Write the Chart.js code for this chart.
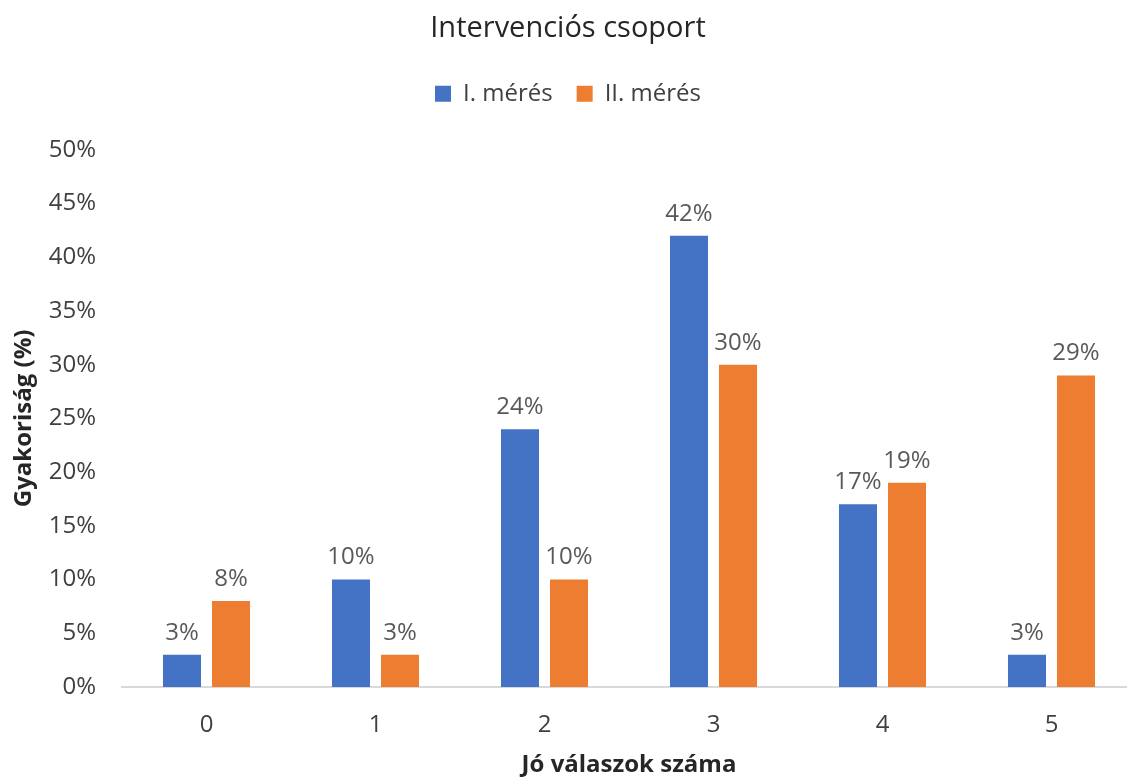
<!DOCTYPE html>
<html>
<head>
<meta charset="utf-8">
<script src="https://cdn.jsdelivr.net/npm/chart.js@4/dist/chart.umd.min.js"></script>
<style>
  html, body { margin: 0; padding: 0; background: #fff; overflow: hidden; }
  #wrap { width: 1140px; height: 778px; }
</style>
</head>
<body>
<div id="wrap"><canvas id="freqChart" width="1140" height="778"></canvas></div>
<script>
const categories = ["0", "1", "2", "3", "4", "5"];
const seriesNames = ["I. mérés", "II. mérés"];
const firstRound = [3, 10, 24, 42, 17, 3];
const secondRound = [8, 3, 10, 30, 19, 29];

const FONT = "'Open Sans', 'Noto Sans', sans-serif";

// small inline plugin: percent labels above each bar
const barValueLabels = {
  id: "barValueLabels",
  afterDatasetsDraw(chart) {
    const ctx = chart.ctx;
    ctx.save();
    ctx.font = "24px " + FONT;
    ctx.fillStyle = "#595959";
    ctx.textAlign = "center";
    ctx.textBaseline = "bottom";
    chart.data.datasets.forEach((ds, i) => {
      chart.getDatasetMeta(i).data.forEach((bar, j) => {
        ctx.fillText(ds.data[j] + "%", bar.x, bar.y - 10);
      });
    });
    ctx.restore();
  }
};

// leave some extra room between the legend and the plot
const legendGap = {
  id: "legendGap",
  afterInit(chart) {
    const legend = chart.legend;
    if (!legend) return;
    const fit = legend.fit;
    legend.fit = function () {
      fit.call(this);
      this.height += 34;
    };
  }
};

const ctx = document.getElementById("freqChart").getContext("2d");
new Chart(ctx, {
  type: "bar",
  data: {
    labels: categories,
    datasets: [
      { label: seriesNames[0], data: firstRound, backgroundColor: "#4472C4" },
      { label: seriesNames[1], data: secondRound, backgroundColor: "#ED7D31" }
    ]
  },
  options: {
    responsive: false,
    animation: false,
    categoryPercentage: 0.58,
    barPercentage: 0.776,
    layout: { padding: { left: 0, right: 4, top: 0, bottom: 0 } },
    plugins: {
      title: {
        display: true,
        text: "Intervenciós csoport",
        color: "#262626",
        font: { family: FONT, size: 29, weight: "normal" },
        padding: { top: 11, bottom: 12 }
      },
      legend: {
        display: true,
        labels: {
          color: "#404040",
          font: { family: FONT, size: 24 },
          boxWidth: 16,
          boxHeight: 16,
          padding: 24
        }
      },
      tooltip: { enabled: false }
    },
    scales: {
      x: {
        grid: { display: false, drawTicks: false },
        border: { display: true, color: "#d9d9d9", width: 2 },
        ticks: { color: "#404040", font: { family: FONT, size: 24 }, padding: 24 },
        title: {
          display: true,
          text: "Jó válaszok száma",
          color: "#262626",
          font: { family: FONT, size: 24, weight: "bold" },
          padding: { top: 0, bottom: -2 }
        },
        afterFit: (scale) => { scale.height = 91; }
      },
      y: {
        min: 0,
        max: 50,
        grid: { display: false, drawTicks: false },
        border: { display: false },
        ticks: {
          stepSize: 5,
          color: "#404040",
          font: { family: FONT, size: 24 },
          padding: 26,
          callback: (v) => v + "%"
        },
        title: {
          display: true,
          text: "Gyakoriság (%)",
          color: "#262626",
          font: { family: FONT, size: 24, weight: "bold" },
          padding: { top: 10, bottom: 0 }
        },
        afterFit: (scale) => { scale.width = 122; }
      }
    }
  },
  plugins: [barValueLabels, legendGap]
});
</script>
</body>
</html>
